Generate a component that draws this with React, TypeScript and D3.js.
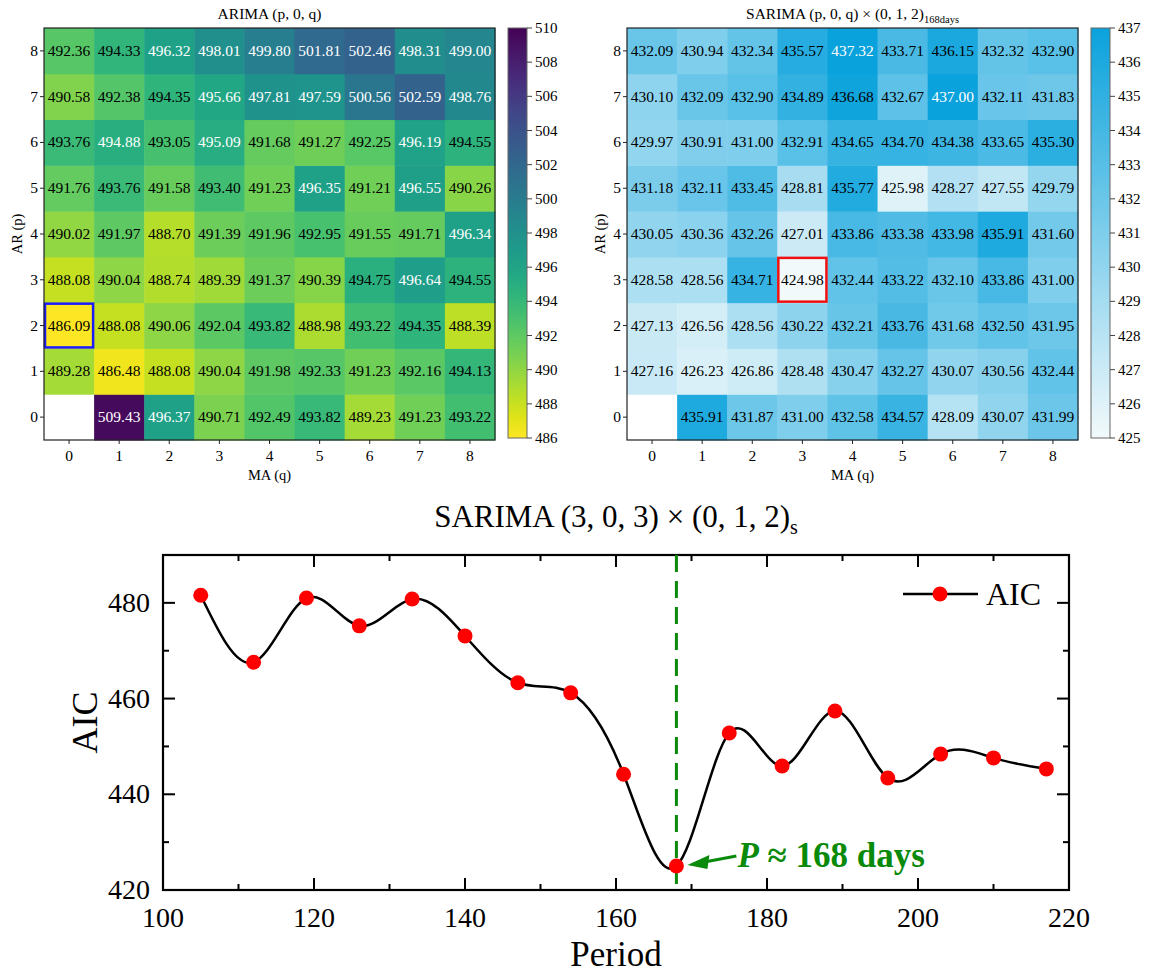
import React from 'react'
import * as d3 from 'd3'

// grid index 0..8 for both AR (p) and MA (q)
const orders = [0, 1, 2, 3, 4, 5, 6, 7, 8]

// ARIMA (p, 0, q) AIC, rows are p = 0..8, columns q = 0..8
const arimaP0 = [null, 509.43, 496.37, 490.71, 492.49, 493.82, 489.23, 491.23, 493.22]
const arimaP1 = [489.28, 486.48, 488.08, 490.04, 491.98, 492.33, 491.23, 492.16, 494.13]
const arimaP2 = [486.09, 488.08, 490.06, 492.04, 493.82, 488.98, 493.22, 494.35, 488.39]
const arimaP3 = [488.08, 490.04, 488.74, 489.39, 491.37, 490.39, 494.75, 496.64, 494.55]
const arimaP4 = [490.02, 491.97, 488.70, 491.39, 491.96, 492.95, 491.55, 491.71, 496.34]
const arimaP5 = [491.76, 493.76, 491.58, 493.40, 491.23, 496.35, 491.21, 496.55, 490.26]
const arimaP6 = [493.76, 494.88, 493.05, 495.09, 491.68, 491.27, 492.25, 496.19, 494.55]
const arimaP7 = [490.58, 492.38, 494.35, 495.66, 497.81, 497.59, 500.56, 502.59, 498.76]
const arimaP8 = [492.36, 494.33, 496.32, 498.01, 499.80, 501.81, 502.46, 498.31, 499.00]
const arimaRows = [arimaP0, arimaP1, arimaP2, arimaP3, arimaP4, arimaP5, arimaP6, arimaP7, arimaP8]
const arimaTicks = [486, 488, 490, 492, 494, 496, 498, 500, 502, 504, 506, 508, 510]

// SARIMA (p, 0, q) x (0, 1, 2) 168 days AIC
const sarimaP0 = [null, 435.91, 431.87, 431.00, 432.58, 434.57, 428.09, 430.07, 431.99]
const sarimaP1 = [427.16, 426.23, 426.86, 428.48, 430.47, 432.27, 430.07, 430.56, 432.44]
const sarimaP2 = [427.13, 426.56, 428.56, 430.22, 432.21, 433.76, 431.68, 432.50, 431.95]
const sarimaP3 = [428.58, 428.56, 434.71, 424.98, 432.44, 433.22, 432.10, 433.86, 431.00]
const sarimaP4 = [430.05, 430.36, 432.26, 427.01, 433.86, 433.38, 433.98, 435.91, 431.60]
const sarimaP5 = [431.18, 432.11, 433.45, 428.81, 435.77, 425.98, 428.27, 427.55, 429.79]
const sarimaP6 = [429.97, 430.91, 431.00, 432.91, 434.65, 434.70, 434.38, 433.65, 435.30]
const sarimaP7 = [430.10, 432.09, 432.90, 434.89, 436.68, 432.67, 437.00, 432.11, 431.83]
const sarimaP8 = [432.09, 430.94, 432.34, 435.57, 437.32, 433.71, 436.15, 432.32, 432.90]
const sarimaRows = [sarimaP0, sarimaP1, sarimaP2, sarimaP3, sarimaP4, sarimaP5, sarimaP6, sarimaP7, sarimaP8]
const sarimaTicks = [425, 426, 427, 428, 429, 430, 431, 432, 433, 434, 435, 436, 437]

// AIC against seasonal period
const periods = [105, 112, 119, 126, 133, 140, 147, 154, 161, 168, 175, 182, 189, 196, 203, 210, 217]
const aicValues = [481.6, 467.6, 481.0, 475.2, 480.8, 473.1, 463.3, 461.2, 444.2, 425.0, 452.8, 445.9, 457.4, 443.4, 448.4, 447.6, 445.3]
const periodTicks = [100, 120, 140, 160, 180, 200, 220]
const aicTicks = [420, 440, 460, 480]
const bestPeriod = 168

const FONT = "'Liberation Serif', 'DejaVu Serif', serif"

function Heatmap ({ id, left, right, top, bottom, rows, domain, ticks, interp, whiteAbove, best, bestColor, title, sub }) {
  const x = d3.scaleBand().domain(orders).range([left, right])
  const y = d3.scaleBand().domain(orders.slice().reverse()).range([top, bottom])
  const color = d3.scaleSequential(interp).domain(domain).clamp(true)

  // colorbar position
  const cbX = right + 13
  const cbW = 19
  const cbTop = top
  const cbBottom = bottom - 2
  const cbY = d3.scaleLinear().domain(domain).range([cbBottom, cbTop])
  const stops = d3.range(0, 1.0001, 0.05)

  return (
    <g>
      <defs>
        <linearGradient id={id} x1='0' y1='1' x2='0' y2='0'>
          {stops.map(t => (
            <stop key={t} offset={t} stopColor={color(domain[0] + t * (domain[1] - domain[0]))} />
          ))}
        </linearGradient>
      </defs>

      {rows.map((row, p) => row.map((v, q) => v === null ? null : (
        <g key={p + '-' + q}>
          <rect x={x(q)} y={y(p)} width={x.bandwidth() + 0.5} height={y.bandwidth() + 0.5} fill={color(v)} />
          <text x={x(q) + x.bandwidth() / 2} y={y(p) + y.bandwidth() / 2 + 5} textAnchor='middle'
            fontSize={15.5} fill={v > whiteAbove ? '#fff' : '#000'}>{v.toFixed(2)}</text>
        </g>
      )))}

      {/* highlighted minimum */}
      <rect x={x(best[1]) + 1} y={y(best[0]) + 1} width={x.bandwidth() - 2} height={y.bandwidth() - 2}
        fill='none' stroke={bestColor} strokeWidth={2.5} />

      <rect x={left} y={top} width={right - left} height={bottom - top} fill='none' stroke='#222' strokeWidth={1.2} />

      {/* axes */}
      {orders.map(o => (
        <g key={'ty' + o}>
          <line x1={left - 4} x2={left} y1={y(o) + y.bandwidth() / 2} y2={y(o) + y.bandwidth() / 2} stroke='#222' />
          <text x={left - 6} y={y(o) + y.bandwidth() / 2 + 5} textAnchor='end' fontSize={15.5}>{o}</text>
          <line x1={x(o) + x.bandwidth() / 2} x2={x(o) + x.bandwidth() / 2} y1={bottom} y2={bottom + 4} stroke='#222' />
          <text x={x(o) + x.bandwidth() / 2} y={bottom + 21} textAnchor='middle' fontSize={15.5}>{o}</text>
        </g>
      ))}
      <text x={(left + right) / 2} y={bottom + 40} textAnchor='middle' fontSize={14.5}>MA (q)</text>
      <text transform={`translate(${left - 22},${(top + bottom) / 2}) rotate(-90)`} textAnchor='middle' fontSize={14.5}>AR (p)</text>

      <text x={(left + right) / 2} y={top - 9} textAnchor='middle' fontSize={15.5}>
        {title}{sub ? <tspan fontSize={10.5} dy={4}>{sub}</tspan> : null}
      </text>

      {/* colorbar */}
      <rect x={cbX} y={cbTop} width={cbW} height={cbBottom - cbTop} fill={`url(#${id})`} stroke='#666' strokeWidth={1} />
      {ticks.map(t => (
        <g key={'cb' + t}>
          <line x1={cbX + cbW} x2={cbX + cbW + 5} y1={cbY(t)} y2={cbY(t)} stroke='#444' />
          <text x={cbX + cbW + 8} y={cbY(t) + 5} fontSize={15}>{t}</text>
        </g>
      ))}
    </g>
  )
}

function AicChart () {
  const left = 163
  const right = 1069
  const top = 555
  const bottom = 890

  const x = d3.scaleLinear().domain([100, 220]).range([left, right])
  const y = d3.scaleLinear().domain([420, 490]).range([bottom, top])

  const pts = periods.map((p, i) => [p, aicValues[i]])
  const line = d3.line()
    .x(d => x(d[0]))
    .y(d => y(d[1]))
    .curve(d3.curveNatural)

  const minorX = d3.range(110, 220, 20)
  const minorY = d3.range(430, 490, 10).filter(v => v % 20 !== 0)

  const bestY = y(aicValues[periods.indexOf(bestPeriod)])

  return (
    <g>
      <text x={(left + right) / 2} y={527} textAnchor='middle' fontSize={31}>
        SARIMA (3, 0, 3) × (0, 1, 2)<tspan fontSize={20} dy={7}>s</tspan>
      </text>

      {/* frame with inward ticks */}
      <rect x={left} y={top} width={right - left} height={bottom - top} fill='none' stroke='#000' strokeWidth={2.2} />
      {periodTicks.map(t => (
        <g key={'px' + t}>
          <line x1={x(t)} x2={x(t)} y1={bottom} y2={bottom - 12} stroke='#000' strokeWidth={2} />
          <line x1={x(t)} x2={x(t)} y1={top} y2={top + 12} stroke='#000' strokeWidth={2} />
          <text x={x(t)} y={927} textAnchor='middle' fontSize={28}>{t}</text>
        </g>
      ))}
      {minorX.map(t => (
        <g key={'mx' + t}>
          <line x1={x(t)} x2={x(t)} y1={bottom} y2={bottom - 6} stroke='#000' strokeWidth={2} />
          <line x1={x(t)} x2={x(t)} y1={top} y2={top + 6} stroke='#000' strokeWidth={2} />
        </g>
      ))}
      {aicTicks.map(t => (
        <g key={'ay' + t}>
          <line x1={left} x2={left + 12} y1={y(t)} y2={y(t)} stroke='#000' strokeWidth={2} />
          <line x1={right} x2={right - 12} y1={y(t)} y2={y(t)} stroke='#000' strokeWidth={2} />
          <text x={left - 13} y={y(t) + 9} textAnchor='end' fontSize={28}>{t}</text>
        </g>
      ))}
      {minorY.map(t => (
        <g key={'my' + t}>
          <line x1={left} x2={left + 6} y1={y(t)} y2={y(t)} stroke='#000' strokeWidth={2} />
          <line x1={right} x2={right - 6} y1={y(t)} y2={y(t)} stroke='#000' strokeWidth={2} />
        </g>
      ))}

      <text x={(left + right) / 2} y={966} textAnchor='middle' fontSize={35}>Period</text>
      <text transform={`translate(${97},${(top + bottom) / 2}) rotate(-90)`} textAnchor='middle' fontSize={36}>AIC</text>

      {/* best period marker */}
      <line x1={x(bestPeriod)} x2={x(bestPeriod)} y1={top} y2={bottom} stroke='#0a8a0a' strokeWidth={3} strokeDasharray='17,9' />

      <path d={line(pts)} fill='none' stroke='#000' strokeWidth={2.5} />
      {pts.map(d => (
        <circle key={d[0]} cx={x(d[0])} cy={y(d[1])} r={7.5} fill='#ff0000' />
      ))}

      {/* annotation arrow */}
      <line x1={x(bestPeriod) + 60} y1={bestY - 10} x2={x(bestPeriod) + 28} y2={bestY - 4} stroke='#0a8a0a' strokeWidth={3} />
      <path d={`M${x(bestPeriod) + 11},${bestY - 1} L${x(bestPeriod) + 33},${bestY - 11} L${x(bestPeriod) + 31},${bestY + 3} Z`} fill='#0a8a0a' />
      <text x={x(bestPeriod) + 61} y={bestY + 1} fontSize={35} fontWeight='bold' fill='#0a8a0a'>
        <tspan fontStyle='italic'>P</tspan> ≈ 168 days
      </text>

      {/* legend */}
      <line x1={903} x2={978} y1={594} y2={594} stroke='#000' strokeWidth={2.5} />
      <circle cx={940} cy={594} r={7.5} fill='#ff0000' />
      <text x={986} y={605} fontSize={32}>AIC</text>
    </g>
  )
}

export default function App () {
  return (
    <svg width={1151} height={976} style={{ position: 'absolute', left: 0, top: 0, background: '#fff', fontFamily: FONT }}>
      <rect width={1151} height={976} fill='#fff' />
      <Heatmap id='cb-arima' left={44} right={495} top={28} bottom={440}
        rows={arimaRows} domain={[486, 510]} ticks={arimaTicks}
        interp={t => d3.interpolateViridis(1 - t)} whiteAbove={494.8}
        best={[2, 0]} bestColor='#1a1aff' title='ARIMA (p, 0, q)' />
      <Heatmap id='cb-sarima' left={627} right={1078} top={28} bottom={440}
        rows={sarimaRows} domain={[425, 437]} ticks={sarimaTicks}
        interp={d3.interpolateRgb('#f2f9fb', '#0aa2dc')} whiteAbove={436.9}
        best={[3, 3]} bestColor='#ee1111' title='SARIMA (p, 0, q) × (0, 1, 2)' sub='168days' />
      <AicChart />
    </svg>
  )
}
